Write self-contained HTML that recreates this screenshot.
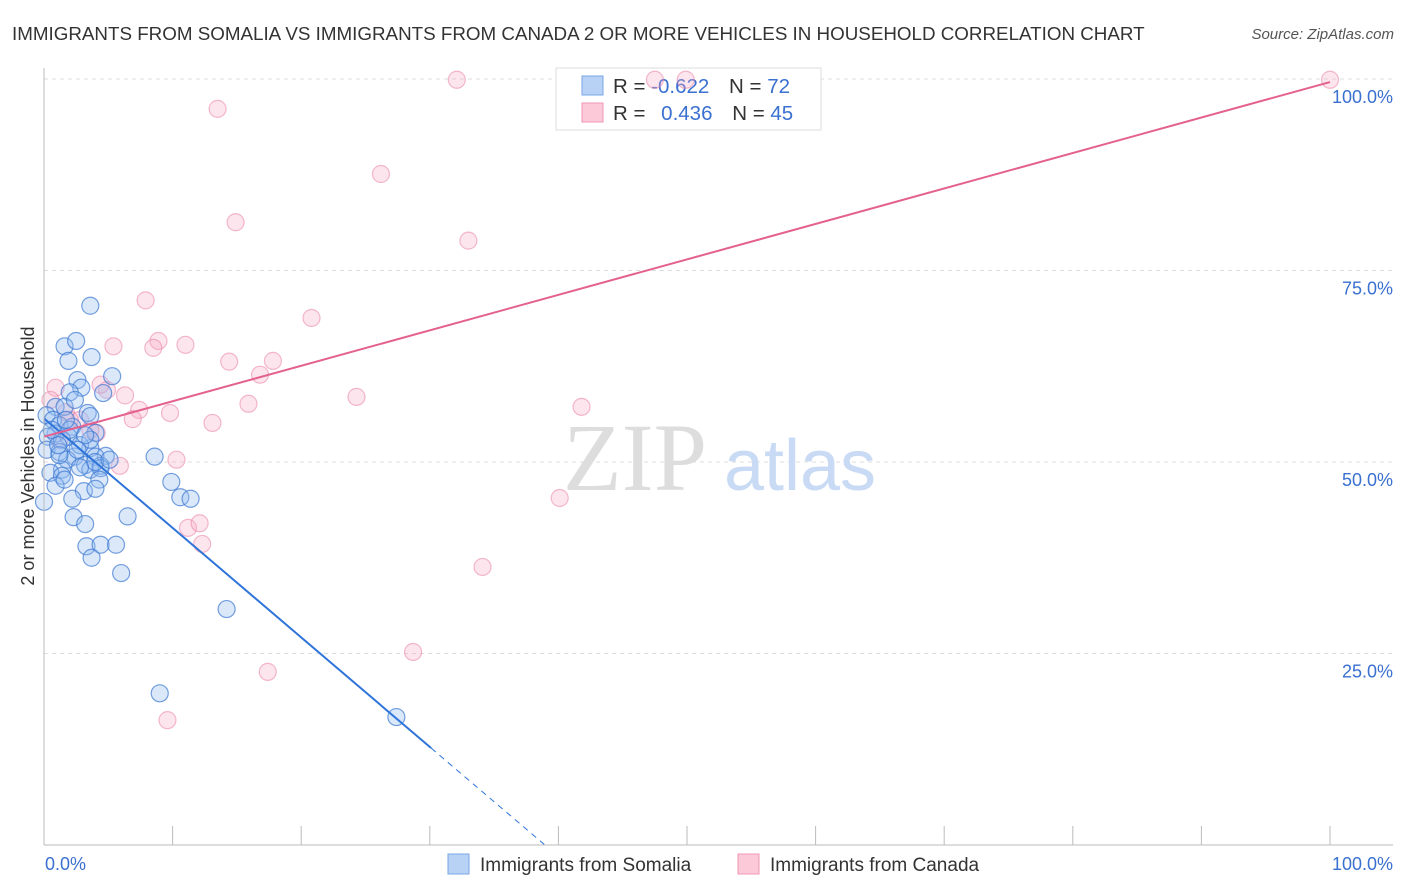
<!DOCTYPE html>
<html><head><meta charset="utf-8"><style>
body{margin:0;background:#fff;font-family:"Liberation Sans",sans-serif}
svg{display:block}
</style></head><body>
<svg id="chart" width="1406" height="892" xmlns="http://www.w3.org/2000/svg" font-family="Liberation Sans, sans-serif">
<text x="12" y="40" font-size="18.8" fill="#333">IMMIGRANTS FROM SOMALIA VS IMMIGRANTS FROM CANADA 2 OR MORE VEHICLES IN HOUSEHOLD CORRELATION CHART</text>
<text x="1394" y="39" font-size="15" fill="#555" font-style="italic" text-anchor="end">Source: ZipAtlas.com</text>
<text transform="translate(34,456) rotate(-90)" font-size="18" fill="#333" text-anchor="middle">2 or more Vehicles in Household</text>
<g id="grid"></g>
<g>
<text x="635" y="490" font-size="96" font-family="Liberation Serif, serif" fill="#ddd" text-anchor="middle">ZIP</text>
<text x="800" y="490" font-size="72" fill="#c9daf5" text-anchor="middle">atlas</text>
</g>
<g>
<rect x="556" y="68" width="265" height="62" fill="#fff" stroke="#ddd"/>
<rect x="582" y="76" width="21" height="19" fill="#b8d2f6" stroke="#7aa6e6"/>
<rect x="582" y="103" width="21" height="19" fill="#fbc9d8" stroke="#f095b4"/>
<text x="613" y="93" font-size="20.5" fill="#333">R = <tspan fill="#3a70d0">-0.622</tspan>  <tspan dx="14">N = </tspan><tspan fill="#3a70d0">72</tspan></text>
<text x="613" y="120" font-size="20.5" fill="#333">R = <tspan fill="#3a70d0" dx="10">0.436</tspan>  <tspan dx="14">N = </tspan><tspan fill="#3a70d0">45</tspan></text>
</g>
<g id="pts"></g>
<g id="lines"></g>
<g id="axes"></g>
<g>
<rect x="448" y="854" width="21" height="20" fill="#b8d2f6" stroke="#7aa6e6"/>
<text x="480" y="871" font-size="19" fill="#333">Immigrants from Somalia</text>
<rect x="738" y="854" width="21" height="20" fill="#fbc9d8" stroke="#f095b4"/>
<text x="770" y="871" font-size="19" fill="#333">Immigrants from Canada</text>
</g>
</svg>
<script>
const yTicks=[25,50,75,100];
const yTickLabels=["25.0%","50.0%","75.0%","100.0%"];
const somaliaX=[3.6,1.6,2.5,3.7,1.9,5.3,2.6,2.9,2.0,4.6,0.9,1.6,3.4,3.6,0.2,0.7,1.2,2.2,4.0,0.9,0.3,1.9,1.4,3.6,0.2,1.2,2.4,4.8,4.0,1.8,8.6,3.2,4.4,1.4,3.6,4.4,0.5,1.4,4.3,9.9,0.9,3.1,4.0,10.6,11.4,2.2,6.5,2.3,3.2,3.3,4.4,5.6,3.7,6.0,14.2,9.0,27.4,0.0,1.2,2.8,2.0,1.1,3.97,2.8,1.6,3.6,5.1,2.4,0.6,1.7,3.2,2.6];
const somaliaY=[70.4,65.1,65.8,63.7,63.2,61.2,60.7,59.7,59.1,59.0,57.2,57.2,56.4,56.0,56.1,55.5,54.8,54.6,53.8,53.7,53.3,53.3,52.9,51.8,51.6,51.3,50.7,50.8,50.7,50.3,50.7,49.6,49.5,49.0,49.0,49.2,48.6,48.2,47.7,47.4,46.9,46.2,46.5,45.4,45.2,45.2,42.9,42.8,41.9,39.0,39.2,39.2,37.5,35.5,30.8,19.8,16.7,44.8,50.9,52.2,54.2,52.2,50.0,49.3,47.7,52.9,50.3,58.1,54.2,55.5,53.5,51.6];
const canadaX=[32.1,47.5,49.9,100,13.5,26.2,14.9,33.0,7.9,20.8,8.9,11.0,8.5,5.4,14.4,17.8,16.8,4.9,0.9,6.3,24.3,15.9,41.8,7.4,9.8,6.9,4.1,1.7,13.1,2.8,5.9,10.3,40.1,11.2,12.1,12.3,34.1,28.7,17.4,9.6,0.5,3.6,2.0,1.2,4.4];
const canadaY=[99.9,99.9,99.9,99.9,96.1,87.6,81.3,78.9,71.1,68.8,65.8,65.3,64.9,65.1,63.1,63.2,61.4,59.4,59.7,58.7,58.5,57.6,57.2,56.8,56.4,55.6,53.8,56.5,55.1,55.5,49.5,50.3,45.3,41.4,42.0,39.3,36.3,25.2,22.6,16.3,58.1,54.2,55.5,52.9,60.1];
const somaliaTrend=[55.7,-1.43,30.1,38.9];
const canadaTrend=[53.3,99.6];

const NS="http://www.w3.org/2000/svg";
const X0=44,X1=1330,Y0=845,Y100=79;
const sx=v=>X0+(X1-X0)*v/100, sy=v=>Y0-(Y0-Y100)*v/100;
function mk(tag,attrs,parent){const e=document.createElementNS(NS,tag);for(const k in attrs)e.setAttribute(k,attrs[k]);parent.appendChild(e);return e;}
const grid=document.getElementById('grid'),axes=document.getElementById('axes'),pts=document.getElementById('pts'),lines=document.getElementById('lines');
yTicks.forEach((t,i)=>{
 const l=mk('line',{x1:X0,x2:1393,y1:sy(t),y2:sy(t),stroke:'#ddd','stroke-dasharray':'4,4'},grid);
 
 
 const tx=mk('text',{x:1393,y:sy(t)+24,'font-size':18,fill:'#3a70d0','text-anchor':'end'},axes);
 tx.textContent=yTickLabels[i];
 
 
});
mk('line',{x1:X0,x2:X0,y1:68,y2:Y0,stroke:'#bbb'},axes);
mk('line',{x1:X0,x2:1393,y1:Y0,y2:Y0,stroke:'#bbb'},axes);
for(let i=1;i<=10;i++){const t=mk('line',{x1:sx(i*10),x2:sx(i*10),y1:826,y2:Y0,stroke:'#bbb'},axes);
 
 }
let a=mk('text',{x:45,y:870,'font-size':18,fill:'#3a70d0'},axes);a.textContent='0.0%';


a=mk('text',{x:1393,y:870,'font-size':18,fill:'#3a70d0','text-anchor':'end'},axes);a.textContent='100.0%';


canadaX.forEach((v,i)=>{const c=mk('circle',{cx:sx(v),cy:sy(canadaY[i]),r:8.5,fill:'rgba(248,170,195,0.3)',stroke:'rgba(232,120,160,0.5)','stroke-width':1.2},pts);
 
 });
somaliaX.forEach((v,i)=>{const c=mk('circle',{cx:sx(v),cy:sy(somaliaY[i]),r:8.5,fill:'rgba(150,190,240,0.35)',stroke:'rgba(60,120,210,0.7)','stroke-width':1.2},pts);
 
 });
const [b0,bs,bEnd,bDash]=somaliaTrend;
let ln=mk('line',{x1:sx(0),y1:sy(b0),x2:sx(bEnd),y2:sy(b0+bs*bEnd),stroke:'#2f74d8','stroke-width':2},lines);


ln=mk('line',{x1:sx(bEnd),y1:sy(b0+bs*bEnd),x2:sx(bDash),y2:sy(b0+bs*bDash),stroke:'#2f74d8','stroke-width':1,'stroke-dasharray':'6,5'},lines);


ln=mk('line',{x1:sx(0),y1:sy(canadaTrend[0]),x2:sx(100),y2:sy(canadaTrend[1]),stroke:'#e4618f','stroke-width':2},lines);


</script>
</body></html>
